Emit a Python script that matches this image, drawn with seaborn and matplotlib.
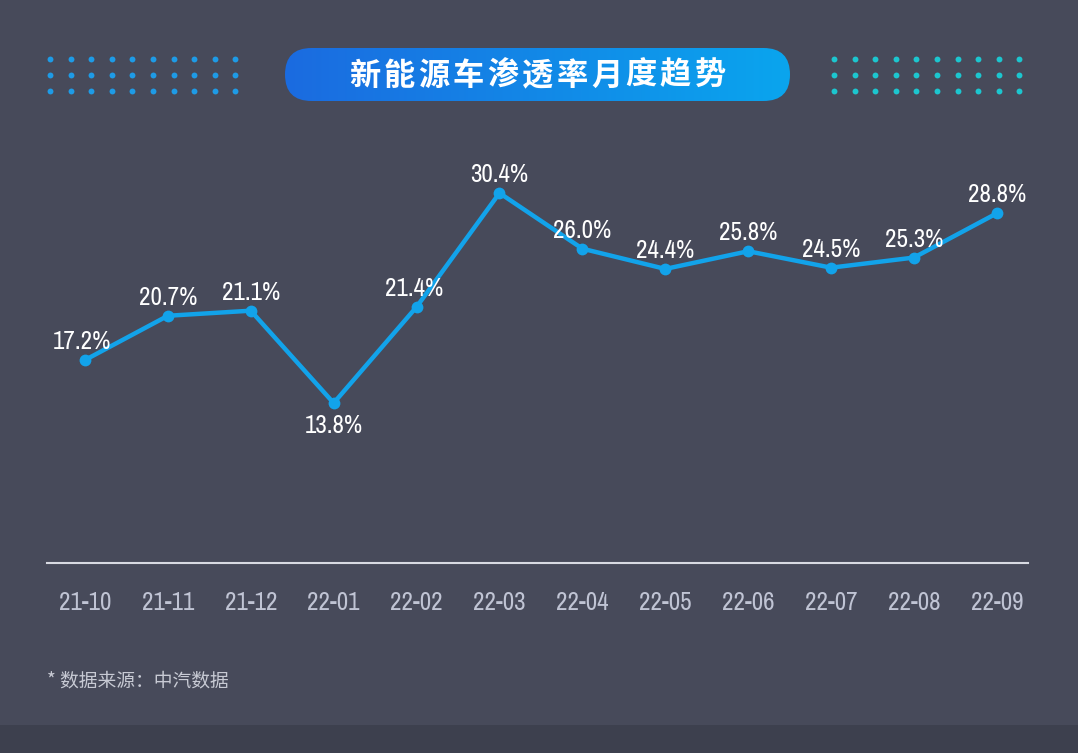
import numpy as np
import pandas as pd
import matplotlib
matplotlib.use("Agg")
import matplotlib.pyplot as plt
import seaborn as sns
from matplotlib import font_manager as fm
from matplotlib.patches import FancyBboxPatch
from matplotlib.colors import LinearSegmentedColormap

months = ["21-10", "21-11", "21-12", "22-01", "22-02", "22-03",
          "22-04", "22-05", "22-06", "22-07", "22-08", "22-09"]
rates = [17.2, 20.7, 21.1, 13.8, 21.4, 30.4, 26.0, 24.4, 25.8, 24.5, 25.3, 28.8]
title = "新能源车渗透率月度趋势"
source = "* 数据来源：中汽数据"

BG = "#474a5a"
sns.set_theme(style="white")
plt.rcParams["font.family"] = ["Noto Sans CJK SC", "DejaVu Sans"]

# condensed font for numbers (prefer the narrowest)
def pick():
    files = [f.fname for f in fm.fontManager.ttflist]
    for key in ["LiberationSansNarrow-Regular", "SansNarrow-Regular", "Narrow", "Condensed"]:
        for fn in files:
            base = fn.split("/")[-1]
            if key in base and "Bold" not in base and "Italic" not in base and "Oblique" not in base:
                return fm.FontProperties(fname=fn)
    return fm.FontProperties(family="DejaVu Sans")
cond_prop = pick()

fig = plt.figure(figsize=(10.78, 7.53), dpi=100)
fig.patch.set_facecolor(BG)

fig.add_artist(plt.Rectangle((0, 0), 1, 28 / 753, transform=fig.transFigure,
                             facecolor="#3d404e", edgecolor="none", zorder=0))

# title pill with gradient
tax = fig.add_axes([285 / 1078, 1 - 101 / 753, 505 / 1078, 53 / 753])
tax.set_xlim(0, 505)
tax.set_ylim(0, 53)
tax.axis("off")
grad = np.linspace(0, 1, 256).reshape(1, -1)
cmap = LinearSegmentedColormap.from_list("g", ["#1b6be0", "#0aa5ee"])
im = tax.imshow(grad, extent=[0, 505, 0, 53], aspect="auto", cmap=cmap, zorder=1)
pill = FancyBboxPatch((26.5, 26.5), 505 - 53, 0.001, boxstyle="round,pad=26.5",
                      transform=tax.transData, facecolor="none", edgecolor="none")
tax.add_patch(pill)
im.set_clip_path(pill)
n = len(title)
step = 34.5
start = 252.5 - step * (n - 1) / 2
for k, ch in enumerate(title):
    tax.text(start + k * step, 25.5, ch, ha="center", va="center", color="white",
             fontsize=22.5, fontweight="bold", family=["Noto Sans CJK SC", "DejaVu Sans"])

# dot grids
dax = fig.add_axes([0, 0, 1, 1], facecolor="none")
dax.set_xlim(0, 1078)
dax.set_ylim(753, 0)
dax.axis("off")
for x0, col in [(50, "#1e9be6"), (834, "#1cc6cf")]:
    xs, ys = np.meshgrid(x0 + np.arange(10) * 20.6, [59, 75, 91])
    dax.scatter(xs.ravel(), ys.ravel(), s=18, color=col, linewidths=0)

dax.text(47, 681, source, ha="left", va="center", color="#c8cad4", fontsize=13.5,
         family=["Noto Sans CJK SC", "DejaVu Sans"])

# main chart
ax = fig.add_axes([47 / 1078, (753 - 563) / 753, 981 / 1078, 413 / 753])
ax.set_facecolor("none")
df = pd.DataFrame({"x": np.arange(len(months)), "rate": rates})
sns.lineplot(data=df, x="x", y="rate", ax=ax, color="#12a3ea", linewidth=3.2,
             marker="o", markersize=8.5, markeredgewidth=0)
ax.set_xlim(-0.458, 11.375)
ax.set_ylim(1.16, 33.8)
for s in ["top", "right", "left"]:
    ax.spines[s].set_visible(False)
ax.spines["bottom"].set_color("#d8dae2")
ax.spines["bottom"].set_linewidth(1.5)
ax.set_yticks([])
ax.set_xticks(np.arange(len(months)))
ax.set_xticklabels(months)
for lab in ax.get_xticklabels():
    lab.set_fontproperties(cond_prop)
    lab.set_fontsize(18)
    lab.set_color("#c0c4d4")
ax.tick_params(axis="x", length=0, pad=20)
ax.set_xlabel("")
ax.set_ylabel("")

for i, v in enumerate(rates):
    if i == 3:
        t = ax.annotate(f"{v:.1f}%", (i, v), xytext=(0, -8), textcoords="offset points",
                        ha="center", va="top", color="white")
    else:
        t = ax.annotate(f"{v:.1f}%", (i, v), xytext=(-2 if i in (0, 4) else 0, 5),
                        textcoords="offset points",
                        ha="center", va="bottom", color="white")
    t.set_fontproperties(cond_prop)
    t.set_fontsize(18)

fig.savefig("out.png", dpi=100, facecolor=fig.get_facecolor())
